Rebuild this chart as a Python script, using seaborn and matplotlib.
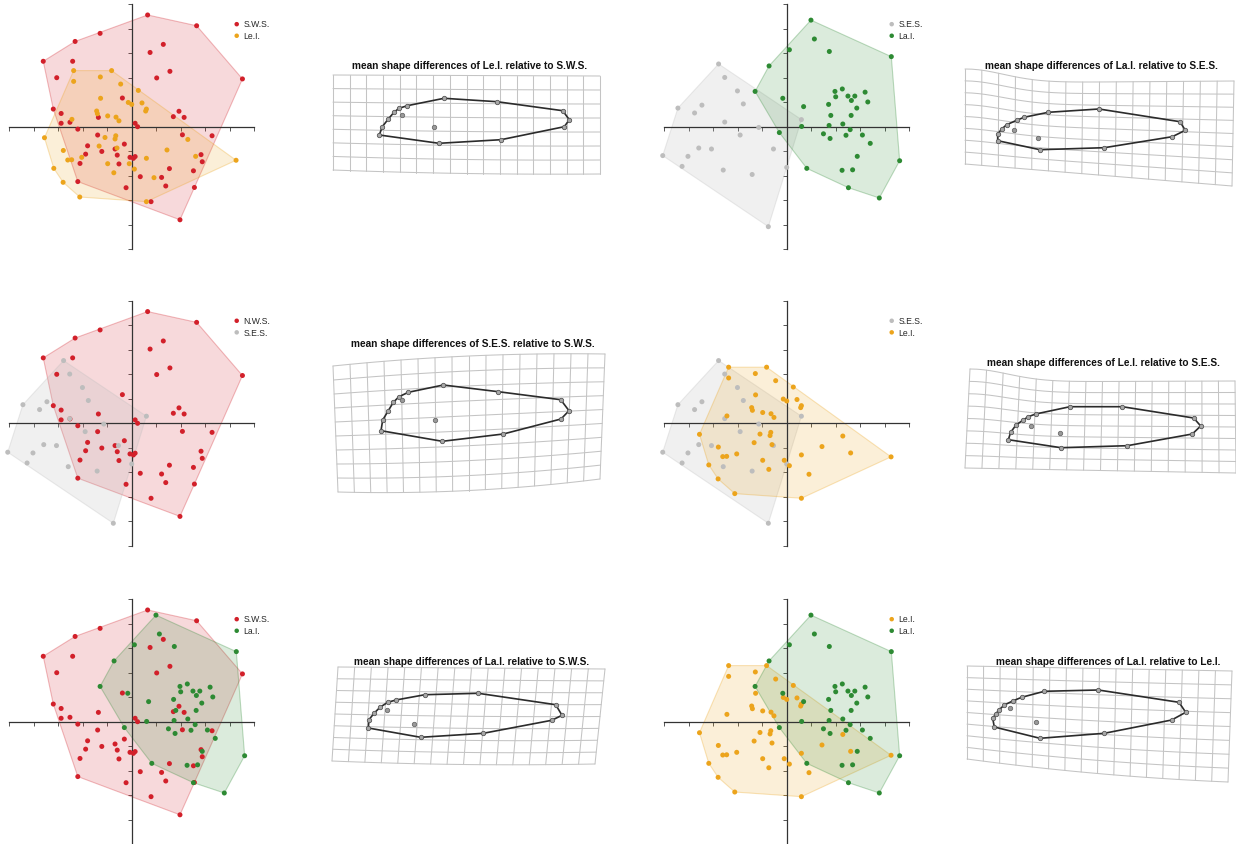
import numpy as np
import pandas as pd
import matplotlib
matplotlib.use("Agg")
import matplotlib.pyplot as plt
from matplotlib.colors import to_rgba
import seaborn as sns

# ---- PCA scores per group (axis units = one tick) ----
sws_x = [0.65, 2.65, 4.52, -1.29, -2.31, -3.61, -2.41, -3.06, 1.29, 0.75, 1.56, 1.02, -0.38, -3.20,
         -2.88, -2.88, -2.52, -1.36, 0.14, 0.24, 1.93, 1.70, 2.14, -2.20, -1.39, 2.07, 3.28, -0.30,
         -1.80, -0.68, -1.22, -1.88, -0.59, 2.83, -0.07, 0.07, 0.14, 2.88, -2.11, -0.52, 1.54, 2.52,
         0.35, 1.22, -2.20, 1.39, -0.23, 2.56, 0.79, 1.97]
sws_y = [4.56, 4.12, 1.95, 3.81, 3.48, 2.67, 2.67, 2.00, 3.36, 3.03, 2.26, 1.99, 1.17, 0.72,
         0.54, 0.14, 0.18, 0.38, 0.14, 0.00, 0.63, 0.41, 0.38, -0.10, -0.34, -0.33, -0.37, -0.71,
         -0.78, -0.91, -1.01, -1.12, -1.16, -1.14, -1.25, -1.29, -1.22, -1.43, -1.50, -1.52, -1.71, -1.80,
         -2.04, -2.07, -2.24, -2.42, -2.49, -2.48, -3.06, -3.80]

lei_x = [-2.37, -0.82, -1.28, -2.37, -0.45, 0.27, -1.27, -0.14, 0.00, 0.42, 0.60, 0.57, -1.43, -1.40,
         -0.98, -0.64, -0.52, -2.44, -3.56, -0.65, -0.68, -1.09, 2.29, -1.33, -0.60, -2.79, 1.44, -2.04,
         -2.45, -2.61, 2.61, 4.26, 0.60, -0.98, -0.10, 0.11, -0.73, -3.18, 0.91, -2.80, -2.12, 0.60]
lei_y = [2.29, 2.29, 2.03, 1.85, 1.74, 1.48, 1.16, 0.99, 0.91, 0.97, 0.72, 0.64, 0.64, 0.53,
         0.44, 0.39, 0.24, 0.30, -0.45, -0.37, -0.50, -0.44, -0.52, -0.79, -0.87, -0.97, -0.95, -1.25,
         -1.35, -1.36, -1.21, -1.37, -1.29, -1.51, -1.51, -1.73, -1.88, -1.70, -2.08, -2.27, -2.87, -3.06]

ses_x = [-2.78, -2.53, -2.01, -1.77, -4.44, -3.46, -3.76, -2.53, -1.14, -1.90, 0.60, -3.59, -3.07,
         -4.03, -0.54, -5.06, -4.27, -2.59, -1.41, 0.00, -0.75]
ses_y = [2.56, 2.01, 1.46, 0.93, 0.76, 0.88, 0.56, 0.19, -0.03, -0.34, 0.29, -0.87, -0.91,
         -1.21, -0.91, -1.18, -1.62, -1.77, -1.95, -1.66, -4.08]

lai_x = [0.99, 1.13, 1.74, 4.27, 0.11, -0.72, -1.29, -0.16, 0.69, 1.97, 2.27, 2.00, 2.50, 2.78,
         2.64, 3.20, 3.31, 1.71, 2.86, 1.80, 2.63, 0.61, 1.73, 2.29, 2.59, 3.09, 2.42, 1.50, 1.77,
         -0.30, 3.41, 2.88, 4.61, 0.82, 2.26, 2.69, 2.52, 3.78]
lai_y = [4.35, 3.58, 3.07, 2.86, 3.14, 2.48, 1.44, 1.16, 0.82, 1.44, 1.54, 1.22, 1.25, 1.25,
         1.07, 1.41, 1.01, 0.91, 0.76, 0.46, 0.46, 0.01, 0.05, 0.11, -0.12, -0.34, -0.35, -0.29, -0.48,
         -0.24, -0.68, -1.21, -1.39, -1.70, -1.78, -1.76, -2.49, -2.91]

# ---- mean shapes (landmark coordinates, px from panel corner, y down) ----
outline_lei_sws = [(51.3, 64.0), (54.3, 55.7), (60.3, 48.0), (66.0, 41.3), (71.0, 37.3), (79.3, 34.7),
                   (116.0, 27.3), (169.0, 30.7), (234.7, 39.7), (241.3, 48.7), (236.3, 55.7),
                   (173.0, 68.7), (111.0, 72.3)]
inner_lei_sws = [(74.0, 43.7), (106.3, 56.3)]
outline_lai_ses = [(39.7, 79.7), (39.7, 73.0), (43.7, 68.0), (48.7, 63.7), (58.7, 59.3), (66.0, 56.3),
                   (90.3, 51.3), (141.0, 48.0), (222.0, 60.7), (227.3, 69.3), (214.3, 75.7),
                   (146.3, 86.7), (82.0, 88.7)]
inner_lai_ses = [(56.3, 69.0), (80.3, 77.3)]
outline_ses_sws = [(53.0, 81.7), (54.7, 71.0), (60.3, 61.7), (65.3, 53.3), (71.0, 47.7), (80.3, 43.3),
                   (115.3, 36.0), (170.3, 42.7), (232.7, 50.7), (241.0, 61.7), (233.0, 70.0),
                   (175.3, 85.0), (114.3, 92.3)]
inner_ses_sws = [(74.0, 50.7), (107.0, 71.0)]
outline_lei_ses = [(50.3, 78.7), (52.7, 71.3), (58.0, 64.0), (65.3, 59.0), (70.3, 55.7), (77.7, 53.0),
                   (112.0, 45.7), (164.3, 45.7), (235.7, 57.0), (242.7, 65.0), (234.3, 73.0),
                   (169.3, 84.7), (103.0, 86.7)]
inner_lei_ses = [(72.7, 65.0), (102.0, 71.7)]
outline_lai_sws = [(40.3, 67.0), (41.0, 58.7), (46.0, 52.3), (52.0, 46.3), (59.7, 41.3), (68.0, 39.0),
                   (97.0, 33.7), (150.3, 32.3), (227.7, 43.7), (234.0, 54.3), (223.7, 59.3),
                   (155.3, 72.3), (92.7, 76.3)]
inner_lai_sws = [(59.3, 49.0), (86.3, 63.3)]
outline_lai_lei = [(36.3, 68.0), (34.7, 59.3), (37.7, 55.0), (41.0, 51.0), (46.3, 46.0), (55.3, 41.7),
                   (63.7, 38.3), (86.3, 32.3), (140.3, 31.0), (221.0, 43.3), (227.7, 53.3),
                   (213.7, 61.0), (146.3, 74.3), (82.0, 79.3)]
inner_lai_lei = [(52.0, 49.3), (78.0, 63.3)]

RED, ORANGE, GRAY, GREEN = "#d2202a", "#eca41c", "#bdbdbd", "#2d8a33"
groups = {
    "sws": (sws_x, sws_y, RED),
    "lei": (lei_x, lei_y, ORANGE),
    "ses": (ses_x, ses_y, GRAY),
    "lai": (lai_x, lai_y, GREEN),
}

sns.set_style("white")
plt.rcParams["font.family"] = ["Liberation Sans", "DejaVu Sans"]

W, H = 1236, 845
fig = plt.figure(figsize=(W / 100, H / 100), dpi=100)


def rect(x0, y0, x1, y1):
    return [x0 / W, 1 - y1 / H, (x1 - x0) / W, (y1 - y0) / H]


def hull(px, py):
    pts = sorted(set(zip(px, py)))

    def cross(o, a, b):
        return (a[0] - o[0]) * (b[1] - o[1]) - (a[1] - o[1]) * (b[0] - o[0])
    lower, upper = [], []
    for p in pts:
        while len(lower) >= 2 and cross(lower[-2], lower[-1], p) <= 0:
            lower.pop()
        lower.append(p)
    for p in reversed(pts):
        while len(upper) >= 2 and cross(upper[-2], upper[-1], p) <= 0:
            upper.pop()
        upper.append(p)
    h = lower[:-1] + upper[:-1]
    return [p[0] for p in h], [p[1] for p in h]


# scatter panels: (origin px, [(label, group), ...])
scatter_panels = [
    ((131.7, 127.7), [("S.W.S.", "sws"), ("Le.I.", "lei")]),
    ((786.7, 127.7), [("S.E.S.", "ses"), ("La.I.", "lai")]),
    ((131.7, 424.3), [("N.W.S.", "sws"), ("S.E.S.", "ses")]),
    ((786.7, 424.3), [("S.E.S.", "ses"), ("Le.I.", "lei")]),
    ((131.7, 722.7), [("S.W.S.", "sws"), ("La.I.", "lai")]),
    ((786.7, 722.7), [("Le.I.", "lei"), ("La.I.", "lai")]),
]
unit = 24.5
lim = 5.2
half = lim * unit

for (cx, cy), pair in scatter_panels:
    ax = fig.add_axes(rect(cx - half, cy - half, cx + half, cy + half))
    ax.set_xlim(-lim, lim)
    ax.set_ylim(-lim, lim)
    ax.patch.set_alpha(0)
    for name, key in pair:
        gx, gy, col = groups[key]
        hx, hy = hull(gx, gy)
        a = 0.22 if key == "ses" else 0.17
        ax.fill(hx, hy, facecolor=to_rgba(col, a), edgecolor=to_rgba(col, 0.3), lw=0.8, zorder=1)
    for name, key in pair:
        gx, gy, col = groups[key]
        df = pd.DataFrame({"x": gx, "y": gy})
        sns.scatterplot(data=df, x="x", y="y", color=col, s=13, edgecolor="none",
                        label=name, ax=ax, zorder=3)
    for side in ["top", "right"]:
        ax.spines[side].set_visible(False)
    for side in ["left", "bottom"]:
        ax.spines[side].set_position(("data", 0))
        ax.spines[side].set_bounds(-5, 5)
        ax.spines[side].set_color("#333333")
        ax.spines[side].set_linewidth(0.9)
    ax.set_xticks(range(-5, 6))
    ax.set_yticks(range(-5, 6))
    ax.tick_params(direction="out", length=3, width=0.7, color="#555555",
                   labelbottom=False, labelleft=False, bottom=True, left=True)
    ax.set_xlabel("")
    ax.set_ylabel("")
    ax.legend(loc="upper left", bbox_to_anchor=(0.902, 0.921), frameon=False, fontsize=6.2,
              borderpad=0, borderaxespad=0, handlelength=0.6, handletextpad=0.5,
              labelspacing=0.3, markerscale=0.9)

# deformation grid panels
grid_panels = [
    dict(box=(328, 72, 608, 184), title="mean shape differences of Le.I. relative to S.W.S.",
         tpos=(470, 66), shape=outline_lei_sws, inner=inner_lei_sws, rows=7,
         tl=(5, 4), tr=(272, 5), bl=(5, 99), br=(272, 103), tb=0, bb=1.5, notch=0),
    dict(box=(958, 62, 1236, 192), title="mean shape differences of La.I. relative to S.E.S.",
         tpos=(1101, 66), shape=outline_lai_ses, inner=inner_lai_ses, rows=8,
         tl=(7, 22), tr=(276, 20), bl=(7, 103), br=(274, 125), tb=0, bb=0, notch=14),
    dict(box=(328, 350, 610, 498), title="mean shape differences of S.E.S. relative to S.W.S.",
         tpos=(473, 344), shape=outline_ses_sws, inner=inner_ses_sws, rows=9,
         tl=(5, 17), tr=(277, 5), bl=(10, 143), br=(272, 130), tb=-4, bb=5, notch=0),
    dict(box=(958, 362, 1236, 478), title="mean shape differences of Le.I. relative to S.E.S.",
         tpos=(1103, 363), shape=outline_lei_ses, inner=inner_lei_ses, rows=8,
         tl=(12, 21), tr=(277, 20), bl=(7, 107), br=(278, 112), tb=0, bb=0, notch=13),
    dict(box=(328, 662, 608, 776), title="mean shape differences of La.I. relative to S.W.S.",
         tpos=(472, 662), shape=outline_lai_sws, inner=inner_lai_sws, rows=8,
         tl=(10, 6), tr=(277, 8), bl=(4, 100), br=(267, 103), tb=0, bb=2, notch=0),
    dict(box=(958, 660, 1236, 790), title="mean shape differences of La.I. relative to Le.I.",
         tpos=(1108, 662), shape=outline_lai_lei, inner=inner_lai_lei, rows=8,
         tl=(9, 7), tr=(274, 12), bl=(9, 100), br=(270, 123), tb=0, bb=3, notch=0),
]


def warp(s, t, g):
    tl, tr, bl, br = g["tl"], g["tr"], g["bl"], g["br"]
    x = (1 - s) * (1 - t) * tl[0] + s * (1 - t) * tr[0] + (1 - s) * t * bl[0] + s * t * br[0]
    y = (1 - s) * (1 - t) * tl[1] + s * (1 - t) * tr[1] + (1 - s) * t * bl[1] + s * t * br[1]
    y = y + 4 * s * (1 - s) * (g["tb"] * (1 - t) + g["bb"] * t)
    y = y - g["notch"] * np.exp(-(s / 0.2) ** 2) * (1 - t)
    return x, y


for g in grid_panels:
    x0, y0, x1, y1 = g["box"]
    ax = fig.add_axes(rect(x0, y0, x1, y1))
    ax.set_xlim(0, x1 - x0)
    ax.set_ylim(y1 - y0, 0)
    ax.axis("off")
    dense = np.linspace(0, 1, 40)
    for s in np.linspace(0, 1, 17):
        gx, gy = warp(np.full_like(dense, s), dense, g)
        ax.plot(gx, gy, color="#c4c4c4", lw=0.75, zorder=1)
    for t in np.linspace(0, 1, g["rows"] + 1):
        gx, gy = warp(dense, np.full_like(dense, t), g)
        ax.plot(gx, gy, color="#c4c4c4", lw=0.75, zorder=1)
    sx = [p[0] for p in g["shape"]] + [g["shape"][0][0]]
    sy = [p[1] for p in g["shape"]] + [g["shape"][0][1]]
    ax.plot(sx, sy, color="#2b2b2b", lw=1.2, zorder=2)
    shape_df = pd.DataFrame({"x": sx[:-1], "y": sy[:-1]})
    sns.scatterplot(data=shape_df, x="x", y="y", s=10, color="#a8a8a8", edgecolor="#555555",
                    linewidth=0.6, ax=ax, zorder=3, legend=False)
    inner_df = pd.DataFrame({"x": [p[0] for p in g["inner"]], "y": [p[1] for p in g["inner"]]})
    sns.scatterplot(data=inner_df, x="x", y="y", s=10, color="#9a9a9a", edgecolor="#6a6a6a",
                    linewidth=0.6, ax=ax, zorder=3, legend=False)
    fig.text(g["tpos"][0] / W, 1 - g["tpos"][1] / H, g["title"], ha="center", va="center",
             fontsize=7.3, fontweight="bold", color="#111111")

fig.savefig("out.png", dpi=100)
